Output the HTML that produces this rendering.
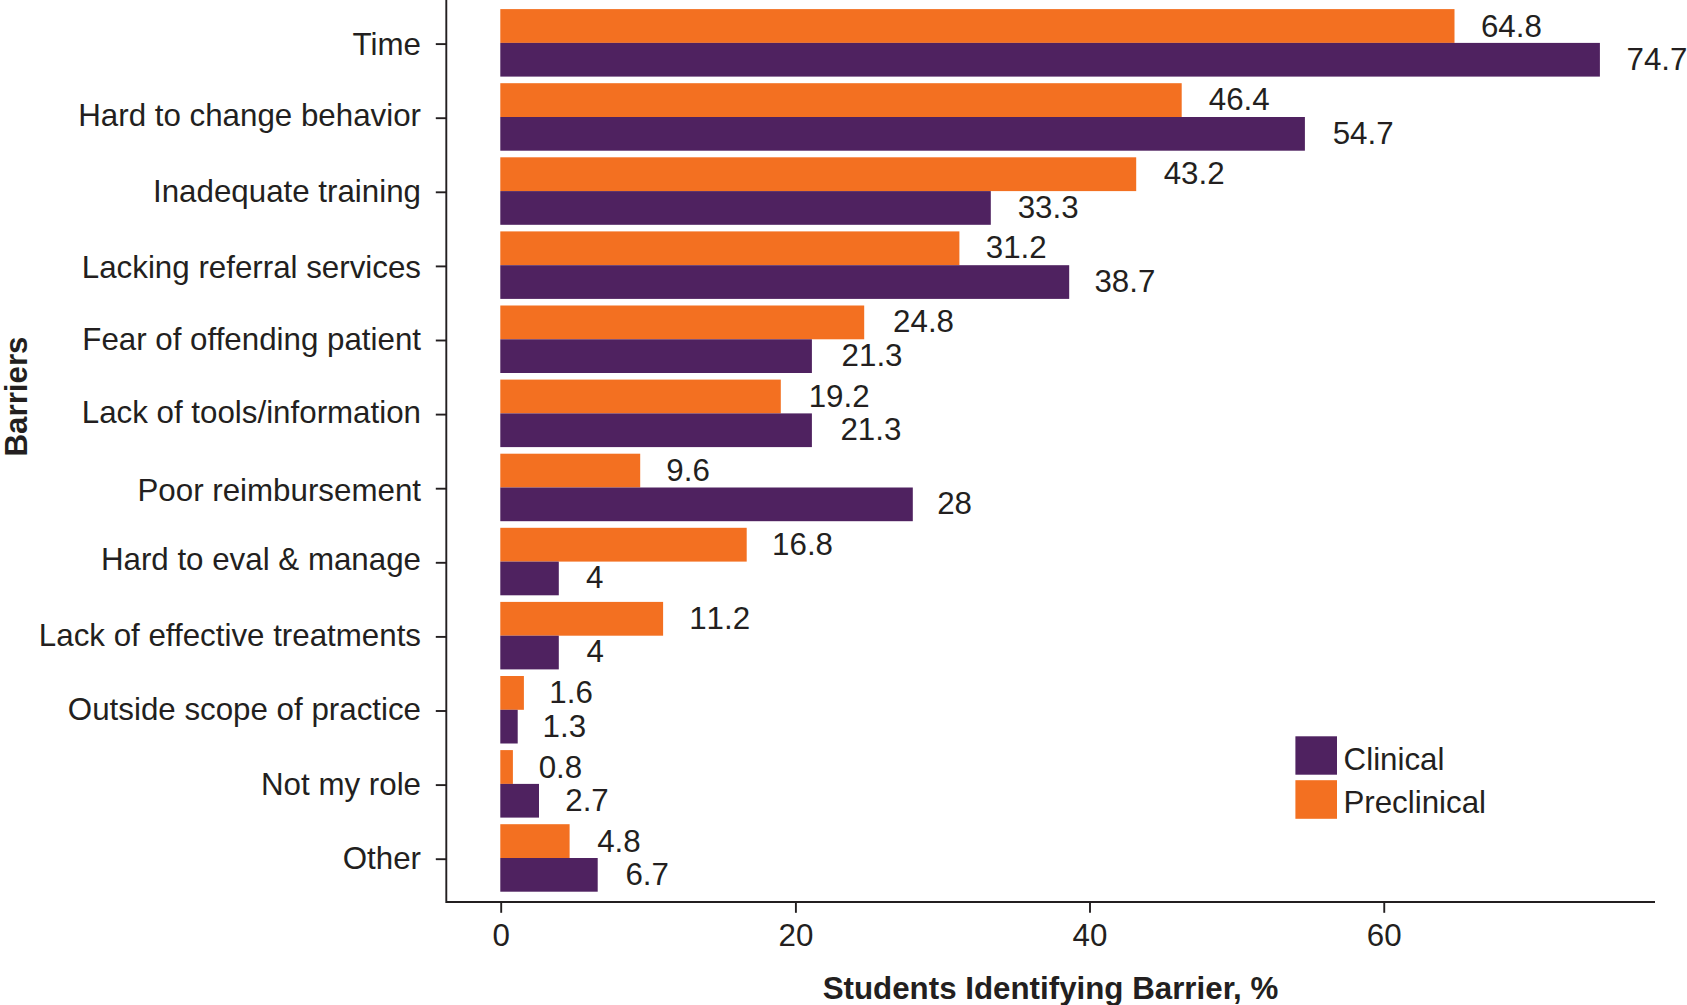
<!DOCTYPE html>
<html><head><meta charset="utf-8"><title>Barriers chart</title>
<style>
html,body{margin:0;padding:0;background:#fff;}
body{width:1687px;height:1005px;overflow:hidden;}
svg{display:block;}
text{font-family:"Liberation Sans",Arial,Helvetica,sans-serif;fill:#231F20;}
.t{font-size:31.3px;}
.v{font-size:31.3px;font-kerning:none;}
.b{font-size:31.3px;font-weight:bold;}
</style></head><body>
<svg width="1687" height="1005" viewBox="0 0 1687 1005">
<rect width="1687" height="1005" fill="#fff"/>

<rect x="500.3" y="9.10" width="954.20" height="33.8" fill="#F37021"/>
<rect x="500.3" y="42.90" width="1099.60" height="33.7" fill="#4F2260"/>
<line x1="435.8" y1="44.10" x2="446.3" y2="44.10" stroke="#231F20" stroke-width="1.9"/>
<text class="t" x="421.00" y="54.60" text-anchor="end">Time</text>
<text class="v" x="1480.90" y="36.80">64.8</text>
<text class="v" x="1626.50" y="69.70">74.7</text>
<rect x="500.3" y="83.20" width="681.40" height="33.8" fill="#F37021"/>
<rect x="500.3" y="117.00" width="804.60" height="33.7" fill="#4F2260"/>
<line x1="435.8" y1="118.20" x2="446.3" y2="118.20" stroke="#231F20" stroke-width="1.9"/>
<text class="t" x="421.00" y="126.40" text-anchor="end">Hard to change behavior</text>
<text class="v" x="1208.80" y="110.40">46.4</text>
<text class="v" x="1332.70" y="144.10">54.7</text>
<rect x="500.3" y="157.30" width="635.90" height="33.8" fill="#F37021"/>
<rect x="500.3" y="191.10" width="490.50" height="33.7" fill="#4F2260"/>
<line x1="435.8" y1="192.30" x2="446.3" y2="192.30" stroke="#231F20" stroke-width="1.9"/>
<text class="t" x="421.00" y="201.70" text-anchor="end">Inadequate training</text>
<text class="v" x="1163.70" y="184.20">43.2</text>
<text class="v" x="1017.70" y="218.10">33.3</text>
<rect x="500.3" y="231.40" width="459.10" height="33.8" fill="#F37021"/>
<rect x="500.3" y="265.20" width="568.90" height="33.7" fill="#4F2260"/>
<line x1="435.8" y1="266.40" x2="446.3" y2="266.40" stroke="#231F20" stroke-width="1.9"/>
<text class="t" x="421.00" y="278.30" text-anchor="end">Lacking referral services</text>
<text class="v" x="985.80" y="258.00">31.2</text>
<text class="v" x="1094.40" y="291.60">38.7</text>
<rect x="500.3" y="305.50" width="363.90" height="33.8" fill="#F37021"/>
<rect x="500.3" y="339.30" width="311.60" height="33.7" fill="#4F2260"/>
<line x1="435.8" y1="340.50" x2="446.3" y2="340.50" stroke="#231F20" stroke-width="1.9"/>
<text class="t" x="421.00" y="350.40" text-anchor="end">Fear of offending patient</text>
<text class="v" x="893.10" y="332.30">24.8</text>
<text class="v" x="841.60" y="366.00">21.3</text>
<rect x="500.3" y="379.60" width="280.50" height="33.8" fill="#F37021"/>
<rect x="500.3" y="413.40" width="311.60" height="33.7" fill="#4F2260"/>
<line x1="435.8" y1="414.60" x2="446.3" y2="414.60" stroke="#231F20" stroke-width="1.9"/>
<text class="t" x="421.00" y="423.40" text-anchor="end">Lack of tools/information</text>
<text class="v" x="808.70" y="406.50">19.2</text>
<text class="v" x="840.40" y="440.10">21.3</text>
<rect x="500.3" y="453.70" width="139.90" height="33.8" fill="#F37021"/>
<rect x="500.3" y="487.50" width="412.50" height="33.7" fill="#4F2260"/>
<line x1="435.8" y1="488.70" x2="446.3" y2="488.70" stroke="#231F20" stroke-width="1.9"/>
<text class="t" x="421.00" y="500.60" text-anchor="end">Poor reimbursement</text>
<text class="v" x="666.30" y="480.50">9.6</text>
<text class="v" x="937.20" y="514.10">28</text>
<rect x="500.3" y="527.80" width="246.40" height="33.8" fill="#F37021"/>
<rect x="500.3" y="561.60" width="58.50" height="33.7" fill="#4F2260"/>
<line x1="435.8" y1="562.80" x2="446.3" y2="562.80" stroke="#231F20" stroke-width="1.9"/>
<text class="t" x="421.00" y="569.80" text-anchor="end">Hard to eval &amp; manage</text>
<text class="v" x="772.10" y="554.70">16.8</text>
<text class="v" x="586.00" y="588.30">4</text>
<rect x="500.3" y="601.90" width="162.80" height="33.8" fill="#F37021"/>
<rect x="500.3" y="635.70" width="58.50" height="33.7" fill="#4F2260"/>
<line x1="435.8" y1="636.90" x2="446.3" y2="636.90" stroke="#231F20" stroke-width="1.9"/>
<text class="t" x="421.00" y="646.30" text-anchor="end">Lack of effective treatments</text>
<text class="v" x="689.20" y="629.00">11.2</text>
<text class="v" x="586.50" y="662.10">4</text>
<rect x="500.3" y="676.00" width="23.60" height="33.8" fill="#F37021"/>
<rect x="500.3" y="709.80" width="17.40" height="33.7" fill="#4F2260"/>
<line x1="435.8" y1="711.00" x2="446.3" y2="711.00" stroke="#231F20" stroke-width="1.9"/>
<text class="t" x="421.00" y="720.10" text-anchor="end">Outside scope of practice</text>
<text class="v" x="549.30" y="703.00">1.6</text>
<text class="v" x="542.60" y="736.90">1.3</text>
<rect x="500.3" y="750.10" width="12.60" height="33.8" fill="#F37021"/>
<rect x="500.3" y="783.90" width="38.70" height="33.7" fill="#4F2260"/>
<line x1="435.8" y1="785.10" x2="446.3" y2="785.10" stroke="#231F20" stroke-width="1.9"/>
<text class="t" x="421.00" y="795.10" text-anchor="end">Not my role</text>
<text class="v" x="538.70" y="777.60">0.8</text>
<text class="v" x="565.25" y="810.60">2.7</text>
<rect x="500.3" y="824.20" width="69.30" height="33.8" fill="#F37021"/>
<rect x="500.3" y="858.00" width="97.40" height="33.7" fill="#4F2260"/>
<line x1="435.8" y1="859.20" x2="446.3" y2="859.20" stroke="#231F20" stroke-width="1.9"/>
<text class="t" x="421.00" y="869.30" text-anchor="end">Other</text>
<text class="v" x="597.20" y="851.50">4.8</text>
<text class="v" x="625.40" y="884.80">6.7</text>
<path d="M446.3 0 V902.05 H1655" fill="none" stroke="#231F20" stroke-width="1.9"/>
<line x1="501.20" y1="902" x2="501.20" y2="912.8" stroke="#231F20" stroke-width="1.9"/>
<text class="v" x="501.20" y="945.8" text-anchor="middle">0</text>
<line x1="795.90" y1="902" x2="795.90" y2="912.8" stroke="#231F20" stroke-width="1.9"/>
<text class="v" x="795.90" y="945.8" text-anchor="middle">20</text>
<line x1="1090.00" y1="902" x2="1090.00" y2="912.8" stroke="#231F20" stroke-width="1.9"/>
<text class="v" x="1090.00" y="945.8" text-anchor="middle">40</text>
<line x1="1384.25" y1="902" x2="1384.25" y2="912.8" stroke="#231F20" stroke-width="1.9"/>
<text class="v" x="1384.25" y="945.8" text-anchor="middle">60</text>
<rect x="1295.4" y="736.3" width="41.6" height="38.4" fill="#4F2260"/>
<rect x="1295.4" y="780.2" width="41.6" height="38.6" fill="#F37021"/>
<text class="t" x="1343.60" y="769.5">Clinical</text>
<text class="t" x="1343.40" y="813.1">Preclinical</text>
<text class="b" x="1050.5" y="998.7" text-anchor="middle">Students Identifying Barrier, %</text>
<text class="b" transform="translate(27 396.5) rotate(-90)" text-anchor="middle">Barriers</text>
</svg></body></html>
